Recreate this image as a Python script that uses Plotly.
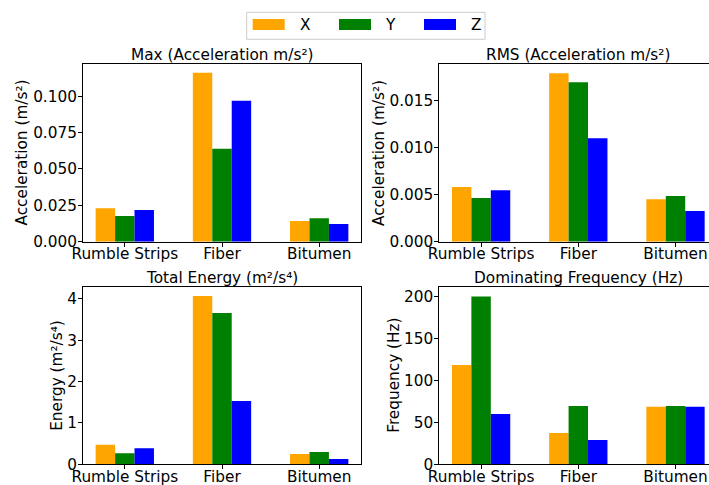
import plotly.graph_objects as go

# Surface types along the x axis
categories = ["Rumble Strips", "Fiber", "Bitumen"]
positions = [0, 1, 2]

# Peak acceleration (m/s²) per axis
max_x = [0.0230, 0.1161, 0.0143]
max_y = [0.0177, 0.0639, 0.0161]
max_z = [0.0217, 0.0968, 0.0122]

# RMS acceleration (m/s²) per axis
rms_x = [0.00583, 0.01795, 0.00452]
rms_y = [0.00466, 0.01700, 0.00487]
rms_z = [0.00548, 0.01102, 0.00327]

# Total energy (m²/s⁴) per axis
energy_x = [0.47, 4.07, 0.25]
energy_y = [0.27, 3.66, 0.30]
energy_z = [0.39, 1.53, 0.13]

# Dominating frequency (Hz) per axis
freq_x = [118.5, 37.4, 68.7]
freq_y = [200.0, 69.6, 69.6]
freq_z = [60.0, 29.0, 68.7]

series_names = ["X", "Y", "Z"]
series_colors = ["#FFA500", "#008000", "#0000FF"]

W, H = 709, 485
FONT = "DejaVu Sans"
FS = 15.3


def px(x):
    return x / W


def py(y):
    return 1 - y / H


panels = [
    # (values, title, ytitle, ytick values, tick format, y max, box, ytitle x)
    ((max_x, max_y, max_z), "Max (Acceleration m/s²)", "Acceleration (m/s²)",
     [0, 0.025, 0.05, 0.075, 0.1], ".3f", 0.1219, (83, 361, 64.3, 241.7), 21.5),
    ((rms_x, rms_y, rms_z), "RMS (Acceleration m/s²)", "Acceleration (m/s²)",
     [0, 0.005, 0.01, 0.015], ".3f", 0.01890, (439.3, 717.3, 64.3, 241.7), 379),
    ((energy_x, energy_y, energy_z), "Total Energy (m²/s⁴)", "Energy (m²/s⁴)",
     [0, 1, 2, 3, 4], "d", 4.282, (83, 361, 287.3, 464.3), 57),
    ((freq_x, freq_y, freq_z), "Dominating Frequency (Hz)", "Frequency (Hz)",
     [0, 50, 100, 150, 200], "d", 211.0, (439.3, 717.3, 287.3, 464.3), 394),
]

fig = go.Figure()
annotations = []
layout_axes = {}
x_lo, x_hi = -0.43, 2.43

for i, (vals, title, ytitle, yticks, fmt, ymax, box, ytx) in enumerate(panels):
    k = "" if i == 0 else str(i + 1)
    x0, x1, y0, y1 = box
    vis_x1 = min(x1, W)
    # visible part of the x range when the panel runs past the page edge
    xr_hi = x_lo + (vis_x1 - x0) / (x1 - x0) * (x_hi - x_lo)
    clipped = x1 > W

    for name, color, v in zip(series_names, series_colors, vals):
        fig.add_trace(go.Bar(
            x=positions, y=v, name=name, marker=dict(color=color, line=dict(width=0)),
            xaxis="x" + k, yaxis="y" + k, offsetgroup=name, showlegend=False,
        ))

    layout_axes["xaxis" + k] = dict(
        domain=[px(x0), px(vis_x1)], anchor="y" + k, range=[x_lo, xr_hi],
        tickvals=positions, ticktext=categories, ticks="outside", ticklen=4,
        tickwidth=1, tickcolor="black", showline=True, linecolor="black",
        linewidth=1, mirror=True, showgrid=False, zeroline=False,
        automargin=False, ticklabeloverflow="allow", ticklabelstandoff=-6,
        tickfont=dict(family=FONT, size=FS, color="black"),
    )
    layout_axes["yaxis" + k] = dict(
        domain=[py(y1), py(y0)], anchor="x" + k, range=[0, ymax],
        tickvals=yticks, tickformat=fmt, ticks="outside", ticklen=4,
        tickwidth=1, tickcolor="black", showline=True, linecolor="black",
        linewidth=1, mirror=(not clipped), showgrid=False, zeroline=False,
        automargin=False, ticklabeloverflow="allow", ticklabelstandoff=-2,
        tickfont=dict(family=FONT, size=FS, color="black"),
    )

    annotations.append(dict(
        text=title, x=px((x0 + x1) / 2), y=py(y0 - 9.5), xref="paper", yref="paper",
        xanchor="center", yanchor="middle", showarrow=False,
        font=dict(family=FONT, size=FS, color="black"),
    ))
    annotations.append(dict(
        text=ytitle, x=px(ytx), y=py((y0 + y1) / 2), xref="paper", yref="paper",
        xanchor="center", yanchor="middle", textangle=-90, showarrow=False,
        font=dict(family=FONT, size=FS, color="black"),
    ))

# Shared legend box above the panels
shapes = [dict(
    type="rect", xref="paper", yref="paper",
    x0=px(246.7), x1=px(485), y0=py(39.3), y1=py(12.3),
    line=dict(color="#cccccc", width=1), fillcolor="white",
)]
patch_x = [252.7, 339, 424]
label_x = [298.3, 383.3, 468.7]
for name, color, pxl, lx in zip(series_names, series_colors, patch_x, label_x):
    shapes.append(dict(
        type="rect", xref="paper", yref="paper",
        x0=px(pxl), x1=px(pxl + 32), y0=py(30), y1=py(19),
        line=dict(width=0), fillcolor=color,
    ))
    annotations.append(dict(
        text=name, x=px(lx), y=py(24.5), xref="paper", yref="paper",
        xanchor="left", yanchor="middle", showarrow=False,
        font=dict(family=FONT, size=FS, color="black"),
    ))

fig.update_layout(
    width=W, height=H, margin=dict(l=0, r=0, t=0, b=0),
    paper_bgcolor="white", plot_bgcolor="white",
    barmode="group", bargap=0.4, bargroupgap=0,
    annotations=annotations, shapes=shapes,
    font=dict(family=FONT, size=FS, color="black"),
    **layout_axes,
)

fig.write_html("out.html")
